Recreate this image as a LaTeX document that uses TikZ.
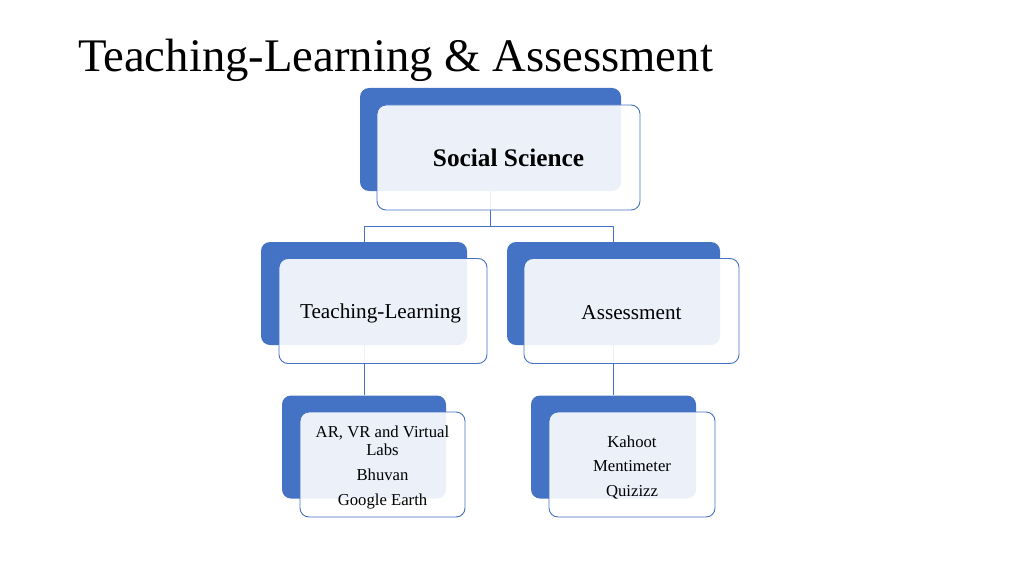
\documentclass[tikz,border=0pt]{standalone}
\usepackage{fontspec}
\setmainfont{Liberation Serif}
\usetikzlibrary{positioning}

\definecolor{boxblue}{HTML}{4472C4}

\begin{document}
\begin{tikzpicture}[x=1pt, y=-1pt,
    backbox/.style={fill=boxblue, rounded corners=9pt, minimum width=#1, minimum height=103pt, inner sep=0pt},
    frontbox/.style={draw=boxblue, line width=0.9pt, fill=white, fill opacity=0.9, text opacity=1,
        rounded corners=9pt, minimum width=#1, minimum height=105pt, inner sep=0pt, align=center},
    link/.style={draw=boxblue, line width=0.8pt}]
    \useasboundingbox (0,0) rectangle (1024,575);

    % Title
    \node[anchor=base west, inner sep=0pt, font=\fontsize{46.7}{56}\selectfont] (title) at (78,72)
        {Teaching-Learning \& Assessment};

    % Back (blue) boxes
    \node[backbox=261pt] (ssback) at (490.5,139.5) {};
    \node[backbox=206pt] (tlback) at (364,293.5) {};
    \node[backbox=213pt] (asback) at (613.5,293.5) {};
    \node[backbox=164pt] (toolsback) at (364,447) {};
    \node[backbox=165pt] (quizback) at (613.5,447) {};

    % Connectors
    \coordinate (fork) at (490.5,226);
    \draw[link] (ssback.south) -- (fork) -| (tlback.north);
    \draw[link] (fork) -| (asback.north);
    \draw[link] (tlback.south) -- (toolsback.north);
    \draw[link] (asback.south) -- (quizback.north);

    % Front boxes with the text
    \node[frontbox=263pt] (ss) at (508.5,157.5) {};
    \node[font=\fontsize{25.3}{30}\selectfont\bfseries] (sstext) at (508.5,157.5) {Social Science};
    \node[frontbox=208pt] (tl) at (383,311) {};
    \node[font=\fontsize{21.2}{25}\selectfont] (tltext) at (380.5,313) {Teaching-Learning};
    \node[frontbox=215pt] (as) at (631.5,311) {};
    \node[font=\fontsize{21.2}{25}\selectfont] (astext) at (631.5,313) {Assessment};
    \node[frontbox=165pt] (tools) at (382.5,464.5) {};
    \node[align=center, font=\fontsize{16.7}{18.5}\selectfont] (toolstext) at (382.5,467.5)
        {AR, VR and Virtual\\Labs\\[6pt]Bhuvan\\[6.5pt]Google Earth};
    \node[frontbox=166pt] (quiz) at (632,464.5) {};
    \node[align=center, font=\fontsize{16.7}{18.5}\selectfont] (quiztext) at (632,467.5)
        {Kahoot\\[6pt]Mentimeter\\[6pt]Quizizz};
\end{tikzpicture}
\end{document}
